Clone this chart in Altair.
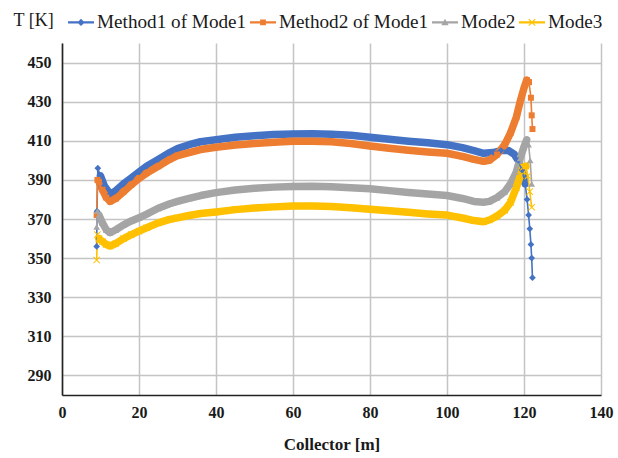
import altair as alt
import pandas as pd

series_names = ["Method1 of Mode1", "Method2 of Mode1", "Mode2", "Mode3"]
colors = ["#4472C4", "#ED7D31", "#A5A5A5", "#FFC000"]

m1_x = [9.0, 9.1, 9.3, 10, 11, 12.5, 14, 16, 18, 20, 22, 25, 28, 30, 33, 36, 40, 45, 50, 55, 60, 65, 70, 75,
        80, 85, 90, 95, 100, 104, 107, 109.5, 112, 114, 116, 117.5, 118.5, 119.5, 120.3, 120.8, 121.2, 121.5,
        121.8, 122.0, 122.2]
m1_t = [356, 374, 396, 392, 387, 382.7, 384.5, 388, 391, 394, 397, 400.5, 404, 406, 408, 409.5, 410.5, 411.8,
        412.6, 413.2, 413.5, 413.6, 413.3, 412.8, 411.8, 410.8, 409.8, 409, 408, 406.5, 405, 403.6, 404, 405,
        405, 403, 400, 395, 388, 380, 372, 365, 357, 350, 340]

m2_x = [9.0, 9.2, 9.6, 10.5, 11.5, 12.5, 14, 16, 18, 20, 22, 25, 28, 30, 33, 36, 40, 45, 50, 55, 60, 65, 70, 75,
        80, 85, 90, 95, 100, 104, 107, 109.5, 111, 113, 115, 116.5, 118, 119, 120, 120.7, 121.3, 121.8, 122.0,
        122.2]
m2_t = [372, 390, 389, 385, 381, 379, 380.5, 384, 387.5, 390.8, 393.5, 397, 400.5, 402.4, 404, 405.5, 406.7,
        407.8, 408.6, 409.2, 409.7, 409.8, 409.5, 408.6, 407.3, 406.2, 405.2, 404.3, 403.6, 402, 400.5, 399.5,
        400, 403, 408, 414, 422, 430, 437, 441, 440, 432, 423, 416]

m3_x = [9.0, 9.2, 9.6, 10.5, 11.5, 12.5, 14, 16, 18, 20, 22, 25, 28, 30, 33, 36, 40, 45, 50, 55, 60, 65, 70, 75,
        80, 85, 90, 95, 100, 104, 107, 109.5, 111, 113, 115, 116.5, 118, 119, 120, 120.7, 121.2, 121.6, 122.0]
m3_t = [366, 374, 372, 368, 364.5, 363, 364.5, 367, 369, 370.6, 372.5, 375.5, 377.8, 379, 380.5, 382, 383.5,
        384.8, 385.7, 386.3, 386.6, 386.8, 386.5, 386, 385.5, 384.5, 383.6, 382.8, 382, 380.5, 379, 378.6, 379,
        381, 384, 388, 394, 401, 407, 410.5, 408, 400, 388]

m4_x = [9.0, 9.2, 9.6, 10.5, 11.5, 12.5, 14, 16, 18, 20, 22, 25, 28, 30, 33, 36, 40, 45, 50, 55, 60, 65, 70, 75,
        80, 85, 90, 95, 100, 104, 107, 109.5, 111, 113, 115, 116.5, 118, 119, 119.8, 120.5, 121, 121.5, 122.0]
m4_t = [349, 362, 360, 358.5, 357, 356.2, 357.5, 360, 362, 363.8, 365.5, 368, 369.8, 370.6, 371.8, 372.8, 373.6,
        374.8, 375.6, 376.2, 376.6, 376.7, 376.4, 375.8, 375, 374.2, 373.4, 372.6, 372, 370.5, 369.2, 368.6,
        369.5, 371.5, 374.5, 378.5, 386, 392, 396.5, 397, 392, 384, 376]

x_ticks = [0, 20, 40, 60, 80, 100, 120, 140]
y_ticks = [290, 310, 330, 350, 370, 390, 410, 430, 450]

rows = []
for name, xs, ts in zip(series_names, [m1_x, m2_x, m3_x, m4_x], [m1_t, m2_t, m3_t, m4_t]):
    for i, (xv, tv) in enumerate(zip(xs, ts)):
        rows.append({"series": name, "x": xv, "T": tv, "i": i})
df = pd.DataFrame(rows)

FONT = "Liberation Serif"

color_scale = alt.Scale(domain=series_names, range=colors)
color_enc = alt.Color("series:N", scale=color_scale, legend=alt.Legend(title=None))
x_enc = alt.X("x:Q", scale=alt.Scale(domain=[0, 140]),
              axis=alt.Axis(values=x_ticks, title="Collector [m]", ticks=False, labelPadding=9,
                            titlePadding=16, titleFontSize=17, labelFontWeight="bold",
                            titleFontWeight="bold", domainColor="#222222", domainWidth=1.6,
                            labelFlush=False))
y_enc = alt.Y("T:Q", scale=alt.Scale(domain=[290, 450]),
              axis=alt.Axis(values=y_ticks, title="T [K]", ticks=False, labelPadding=11,
                            labelFontWeight="bold", titleFontWeight="normal", titleFontSize=18,
                            titleAngle=0, titleAlign="left", titleBaseline="middle",
                            titleX=-49, titleY=-23, domainColor="#222222", domainWidth=1.6))

base = alt.Chart(df)

band = base.transform_filter(
    (alt.datum.x >= 9.5) & (alt.datum.x <= 120.7)
).mark_line(strokeWidth=7.5, strokeJoin="round", strokeCap="round").encode(
    x=x_enc, y=y_enc, color=color_enc, detail="series:N", order="i:Q")

thin = base.mark_line(strokeWidth=1.6).encode(
    x="x:Q", y="T:Q", color=color_enc, detail="series:N", order="i:Q")

diamond = "M0,-1L1,0L0,1L-1,0Z"
xshape = "M-1,-0.8L-0.8,-1L0,-0.2L0.8,-1L1,-0.8L0.2,0L1,0.8L0.8,1L0,0.2L-0.8,1L-1,0.8L-0.2,0Z"
marker_shapes = [diamond, "square", "triangle-up", xshape]
marker_sizes = [45, 36, 45, 50]

point_layers = []
for name, shp, sz in zip(series_names, marker_shapes, marker_sizes):
    point_layers.append(
        base.transform_filter(alt.datum.series == name).mark_point(
            filled=True, shape=shp, size=sz, opacity=1).encode(
            x="x:Q", y="T:Q", color=color_enc))

ln = "M-1,-0.08H1V0.08H-1Z"
legend_shapes = [
    ln + "M0,-0.28L0.28,0L0,0.28L-0.28,0Z",
    ln + "M-0.22,-0.22H0.22V0.22H-0.22Z",
    ln + "M0,-0.28L0.28,0.22H-0.28Z",
    ln + "M-0.28,-0.22L-0.22,-0.28L0,-0.06L0.22,-0.28L0.28,-0.22L0.06,0L0.28,0.22L0.22,0.28L0,0.06L-0.22,0.28L-0.28,0.22L-0.06,0Z",
]

legend_layer = base.transform_filter(alt.datum.i == 0).mark_point(
    filled=True, opacity=0).encode(
    x="x:Q", y="T:Q",
    color=color_enc,
    shape=alt.Shape("series:N", scale=alt.Scale(domain=series_names, range=legend_shapes),
                    legend=alt.Legend(title=None)))

chart = alt.layer(band, thin, *point_layers, legend_layer).properties(
    width=539, height=352,
    autosize=alt.AutoSizeParams(type="none"),
    padding={"left": 62, "top": 43, "right": 17, "bottom": 63},
).configure_view(stroke=None).configure_axis(
    labelFont=FONT, titleFont=FONT, labelFontSize=16, titleFontSize=16,
    labelColor="#1a1a1a", titleColor="#1a1a1a",
    gridColor="#c4c4c4", gridWidth=1.5,
).configure_legend(
    orient="none", legendX=6, legendY=-34, direction="horizontal", columns=4,
    symbolSize=676, symbolOpacity=1, symbolStrokeWidth=0, symbolType="circle",
    labelFont=FONT, labelFontSize=19.2, labelColor="#1a1a1a", labelOffset=3,
    columnPadding=3, padding=0, labelLimit=300,
)

chart.save("out.html", embed_options={"renderer": "svg", "actions": False})
